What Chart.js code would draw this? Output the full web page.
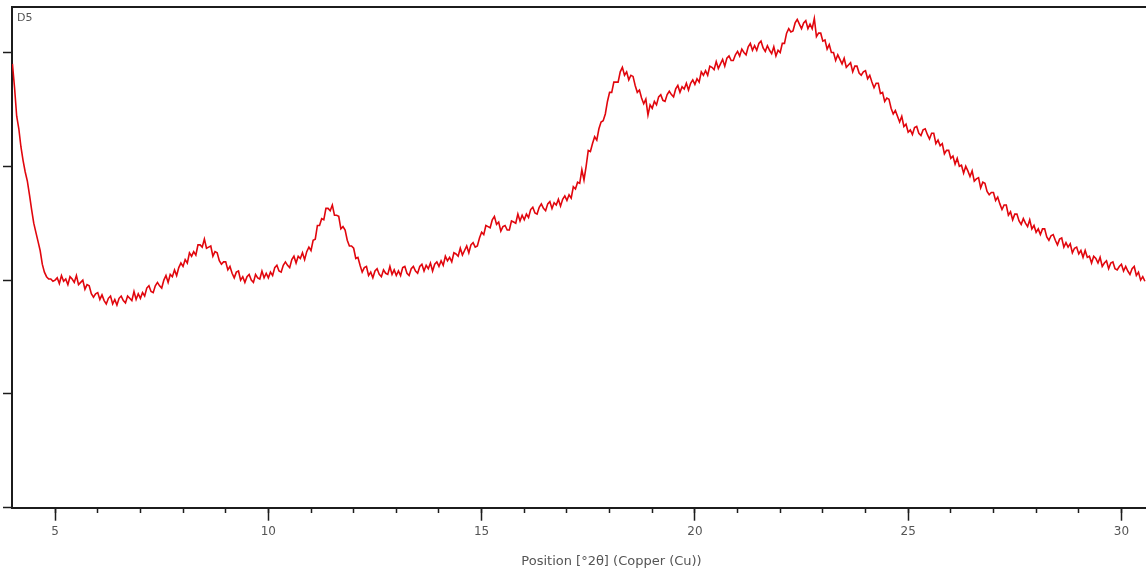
<!DOCTYPE html>
<html>
<head>
<meta charset="utf-8">
<script src="https://cdn.jsdelivr.net/npm/chart.js@4/dist/chart.umd.min.js"></script>
<style>
  html, body { margin: 0; padding: 0; background: #fff; overflow: hidden; }
  #wrap { width: 1146px; height: 577px; overflow: hidden; }
  canvas { display: block; }
</style>
</head>
<body>
<div id="wrap"><canvas id="xrd" width="1211" height="577"></canvas></div>
<script>
// scan: 2theta from 4.00 in steps of 0.05 deg
const THETA_START = 4.0;
const THETA_STEP = 0.05;

// counts, one row per degree
const INTENSITY = [
    390, 369, 344, 333, 317, 305, 295, 287, 275, 262, 250, 242, 234, 226, 214, 207, 203, 201, 201, 199, 200, // 4-5
    202, 197, 204, 199, 201, 196, 203, 201, 198, 204, 196, 198, 200, 192, 196, 195, 188, 185, 188, 189,      // 5-6
    183, 187, 182, 179, 184, 186, 179, 183, 178, 184, 186, 182, 180, 186, 184, 182, 190, 183, 188, 184,      // 6-7
    189, 186, 193, 195, 190, 189, 195, 198, 195, 193, 200, 204, 198, 205, 203, 209, 204, 211, 215, 212,      // 7-8
    218, 215, 224, 221, 225, 222, 231, 231, 229, 236, 228, 229, 230, 221, 225, 224, 217, 214, 216, 216,      // 8-9
    209, 212, 206, 202, 207, 208, 200, 203, 198, 203, 205, 200, 198, 205, 202, 201, 208, 202, 206, 202,      // 9-10
    207, 204, 211, 213, 208, 207, 213, 216, 213, 211, 218, 221, 215, 221, 219, 224, 218, 225, 229, 226,      // 10-11
    235, 236, 248, 248, 254, 253, 263, 263, 261, 266, 257, 257, 256, 245, 247, 244, 235, 230, 230, 228,      // 11-12
    219, 220, 213, 207, 211, 212, 204, 207, 202, 208, 210, 205, 203, 209, 206, 205, 212, 205, 209, 204,      // 12-13
    208, 204, 211, 212, 206, 204, 210, 212, 208, 206, 212, 214, 208, 213, 210, 215, 208, 214, 216, 212,      // 13-14
    217, 213, 221, 217, 220, 216, 224, 223, 221, 228, 222, 226, 230, 224, 231, 233, 229, 230, 237, 242,      // 14-15
    240, 248, 247, 246, 253, 256, 249, 251, 243, 247, 248, 244, 244, 252, 251, 250, 258, 252, 257, 253,      // 15-16
    258, 255, 262, 264, 259, 258, 264, 267, 263, 261, 267, 269, 263, 268, 266, 271, 265, 271, 274, 270,      // 16-17
    275, 272, 282, 280, 286, 285, 297, 288, 300, 314, 313, 320, 326, 323, 333, 339, 340, 346, 357, 365,      // 17-18
    365, 374, 374, 374, 383, 387, 380, 383, 376, 380, 379, 371, 365, 367, 360, 355, 359, 345, 354, 351,      // 18-19
    357, 354, 361, 363, 358, 357, 363, 366, 363, 361, 368, 371, 365, 370, 368, 373, 367, 373, 376, 372,      // 19-20
    377, 374, 383, 380, 384, 380, 388, 387, 385, 392, 386, 390, 394, 388, 395, 397, 393, 393, 398, 401,      // 20-21
    397, 403, 400, 398, 405, 408, 402, 406, 402, 408, 410, 404, 401, 406, 402, 399, 405, 397, 402, 400,      // 21-22
    408, 408, 417, 421, 418, 419, 426, 429, 425, 421, 426, 428, 421, 425, 421, 430, 414, 417, 417, 410,      // 22-23
    411, 403, 407, 400, 400, 393, 398, 394, 390, 395, 387, 389, 391, 383, 388, 388, 382, 380, 383, 384,      // 23-24
    377, 380, 374, 369, 373, 373, 364, 365, 357, 360, 359, 351, 346, 349, 344, 339, 344, 335, 337, 330,      // 24-25
    332, 328, 334, 335, 329, 327, 332, 333, 328, 324, 329, 329, 320, 323, 318, 320, 311, 314, 314, 307,      // 25-26
    309, 302, 307, 300, 301, 294, 300, 296, 291, 296, 287, 289, 290, 281, 286, 285, 278, 275, 277, 277,      // 26-27
    270, 273, 267, 262, 266, 266, 257, 260, 253, 258, 258, 252, 249, 254, 250, 247, 253, 245, 248, 242,      // 27-28
    245, 240, 245, 245, 238, 235, 239, 240, 235, 231, 236, 237, 229, 233, 229, 232, 224, 228, 229, 223,      // 28-29
    226, 220, 226, 220, 221, 215, 221, 219, 215, 220, 212, 215, 217, 210, 215, 216, 210, 209, 212, 214,      // 29-30
    208, 212, 208, 205, 210, 212, 204, 207, 200, 203, 199                                                     // 30-30.55
];

const MAJOR_TICKS = [5, 10, 15, 20, 25, 30];
const MINOR_TICKS = [5, 6, 7, 8, 9, 10, 11, 12, 13, 14, 15, 16, 17, 18, 19, 20, 21, 22, 23, 24, 25, 26, 27, 28, 29, 30, 31, 32];
const Y_TICKS = [0, 100, 200, 300, 400];

const X_MIN = 3.99;
const X_MAX = 32.1;
const Y_MAX = 440;

const SAMPLE_NAME = 'D5';
const X_TITLE = 'Position [°2θ] (Copper (Cu))';

const points = INTENSITY.map((v, i) => ({ x: THETA_START + i * THETA_STEP, y: v }));

const axisColor = '#1c1c1c';
const textColor = '#555555';
const tickFont = { family: '"DejaVu Sans", sans-serif', size: 12 };
const titleFont = { family: '"DejaVu Sans", sans-serif', size: 13 };

// top frame line and sample tag
const framePlugin = {
    id: 'frame',
    afterDraw(chart) {
        const { ctx, chartArea } = chart;
        ctx.save();
        ctx.strokeStyle = axisColor;
        ctx.lineWidth = 2;
        ctx.beginPath();
        ctx.moveTo(chartArea.left - 1, chartArea.top);
        ctx.lineTo(chart.width, chartArea.top);
        ctx.stroke();
        ctx.fillStyle = textColor;
        ctx.font = '11px "DejaVu Sans", sans-serif';
        ctx.textBaseline = 'middle';
        ctx.fillText(SAMPLE_NAME, chartArea.left + 5, chartArea.top + 11);
        ctx.restore();
    }
};

new Chart(document.getElementById('xrd'), {
    type: 'line',
    data: {
        datasets: [{
            label: SAMPLE_NAME,
            data: points,
            borderColor: '#e1060d',
            borderWidth: 1.6,
            pointRadius: 0,
            tension: 0,
            fill: false
        }]
    },
    options: {
        responsive: false,
        animation: false,
        events: [],
        layout: { padding: { left: 3, top: 7, right: 0, bottom: 0 } },
        plugins: {
            legend: { display: false },
            tooltip: { enabled: false }
        },
        scales: {
            x: {
                type: 'linear',
                position: 'bottom',
                min: X_MIN,
                max: X_MAX,
                afterBuildTicks: scale => { scale.ticks = MAJOR_TICKS.map(v => ({ value: v })); },
                ticks: { color: textColor, font: tickFont, padding: 3.5, maxRotation: 0, autoSkip: false },
                grid: { drawOnChartArea: false, tickLength: 13, tickWidth: 1.5, tickColor: axisColor },
                border: { color: axisColor, width: 2 },
                title: { display: true, text: X_TITLE, color: textColor, font: titleFont, padding: { top: 12, bottom: 7.3 } }
            },
            xMinor: {
                type: 'linear',
                position: { y: 0 },
                min: X_MIN,
                max: X_MAX,
                afterBuildTicks: scale => { scale.ticks = MINOR_TICKS.map(v => ({ value: v })); },
                ticks: { display: false },
                grid: { drawOnChartArea: false, tickLength: 5, tickWidth: 1.5, tickColor: axisColor },
                border: { display: false }
            },
            y: {
                min: 0,
                max: Y_MAX,
                afterBuildTicks: scale => { scale.ticks = Y_TICKS.map(v => ({ value: v })); },
                ticks: { display: false },
                grid: { drawOnChartArea: false, tickLength: 9, tickWidth: 1.5, tickColor: axisColor },
                border: { color: axisColor, width: 2 }
            }
        }
    },
    plugins: [framePlugin]
});
</script>
</body>
</html>
